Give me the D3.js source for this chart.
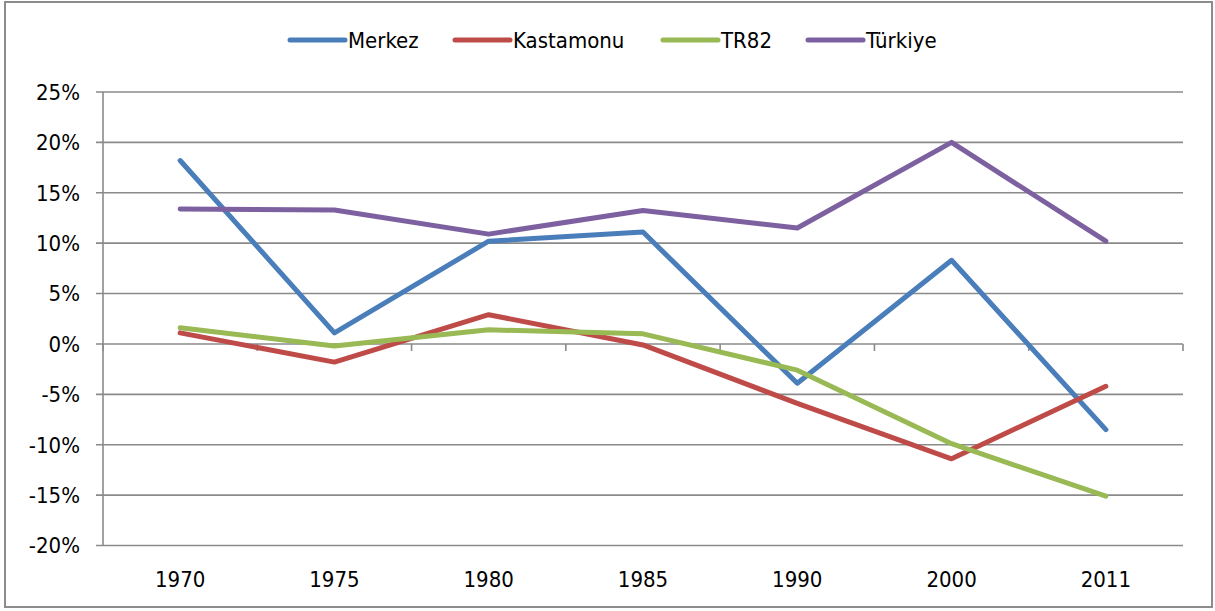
<!DOCTYPE html>
<html>
<head>
<meta charset="utf-8">
<script src="https://cdn.jsdelivr.net/npm/d3@7"></script>
<style>
  body { margin: 0; background: #fff; }
  svg text { font-family: "DejaVu Sans Condensed", "DejaVu Sans", sans-serif; font-stretch: condensed; fill: #000; }
</style>
</head>
<body>
<svg id="chart" width="1215" height="611"></svg>
<script>
var years = ["1970", "1975", "1980", "1985", "1990", "2000", "2011"];
var seriesNames = ["Merkez", "Kastamonu", "TR82", "Türkiye"];
var merkez    = [18.2, 1.1, 10.2, 11.1, -3.9, 8.3, -8.5];
var kastamonu = [1.1, -1.8, 2.9, -0.1, -5.9, -11.4, -4.2];
var tr82      = [1.6, -0.2, 1.4, 1.0, -2.6, -9.9, -15.1];
var turkiye   = [13.4, 13.3, 10.9, 13.25, 11.5, 20.0, 10.2];
var yTicks = [-20, -15, -10, -5, 0, 5, 10, 15, 20, 25];
var colors = ["#4a7ebb", "#be4b48", "#98b954", "#7d60a0"];

var series = [merkez, kastamonu, tr82, turkiye];

var margin = { top: 92, right: 32, bottom: 65, left: 103 };
var width = 1215, height = 611;

var svg = d3.select("#chart");

// outer frame
svg.append("rect")
  .attr("x", 5).attr("y", 2)
  .attr("width", 1207).attr("height", 605)
  .attr("fill", "none")
  .attr("stroke", "#8c8c8c")
  .attr("stroke-width", 2);

var x = d3.scaleBand()
  .domain(years)
  .range([margin.left, width - margin.right]);

var y = d3.scaleLinear()
  .domain([-20, 25])
  .range([height - margin.bottom - 0.5, margin.top]);

// gridlines
svg.append("g")
  .selectAll("line")
  .data(yTicks)
  .enter().append("line")
  .attr("x1", margin.left - 7)
  .attr("x2", width - margin.right)
  .attr("y1", function(d) { return y(d); })
  .attr("y2", function(d) { return y(d); })
  .attr("stroke", "#8a8a8a")
  .attr("stroke-width", 1.6);

// y axis line
svg.append("line")
  .attr("x1", margin.left).attr("x2", margin.left)
  .attr("y1", y(25)).attr("y2", y(-20))
  .attr("stroke", "#8a8a8a")
  .attr("stroke-width", 1.6);

// y labels
svg.append("g")
  .selectAll("text")
  .data(yTicks)
  .enter().append("text")
  .attr("x", 80)
  .attr("y", function(d) { return y(d); })
  .attr("dy", "0.36em")
  .attr("text-anchor", "end")
  .style("font-size", "22px")
  .text(function(d) { return d + "%"; });

// x axis at zero with ticks at band edges
svg.append("g")
  .selectAll("line")
  .data(years.concat(["end"]))
  .enter().append("line")
  .attr("x1", function(d, i) { return i < years.length ? x(d) : x.range()[1]; })
  .attr("x2", function(d, i) { return i < years.length ? x(d) : x.range()[1]; })
  .attr("y1", y(0))
  .attr("y2", y(0) + 7)
  .attr("stroke", "#8a8a8a")
  .attr("stroke-width", 1.6);

// x labels (low position)
svg.append("g")
  .selectAll("text")
  .data(years)
  .enter().append("text")
  .attr("x", function(d) { return x(d) + x.bandwidth() / 2; })
  .attr("y", 587)
  .attr("text-anchor", "middle")
  .style("font-size", "22px")
  .text(function(d) { return d; });

var line = d3.line()
  .x(function(d, i) { return x(years[i]) + x.bandwidth() / 2; })
  .y(function(d) { return y(d); });

series.forEach(function(s, i) {
  svg.append("path")
    .datum(s)
    .attr("d", line)
    .attr("fill", "none")
    .attr("stroke", colors[i])
    .attr("stroke-width", 5)
    .attr("stroke-linejoin", "round")
    .attr("stroke-linecap", "round");
});

// legend
var legendX = [290, 455, 663, 808];
var legend = svg.append("g");
seriesNames.forEach(function(name, i) {
  legend.append("line")
    .attr("x1", legendX[i]).attr("x2", legendX[i] + 55)
    .attr("y1", 40).attr("y2", 40)
    .attr("stroke", colors[i])
    .attr("stroke-width", 5)
    .attr("stroke-linecap", "round");
  legend.append("text")
    .attr("x", legendX[i] + 58)
    .attr("y", 40)
    .attr("dy", "0.36em")
    .style("font-size", "22px")
    .text(name);
});
</script>
</body>
</html>
